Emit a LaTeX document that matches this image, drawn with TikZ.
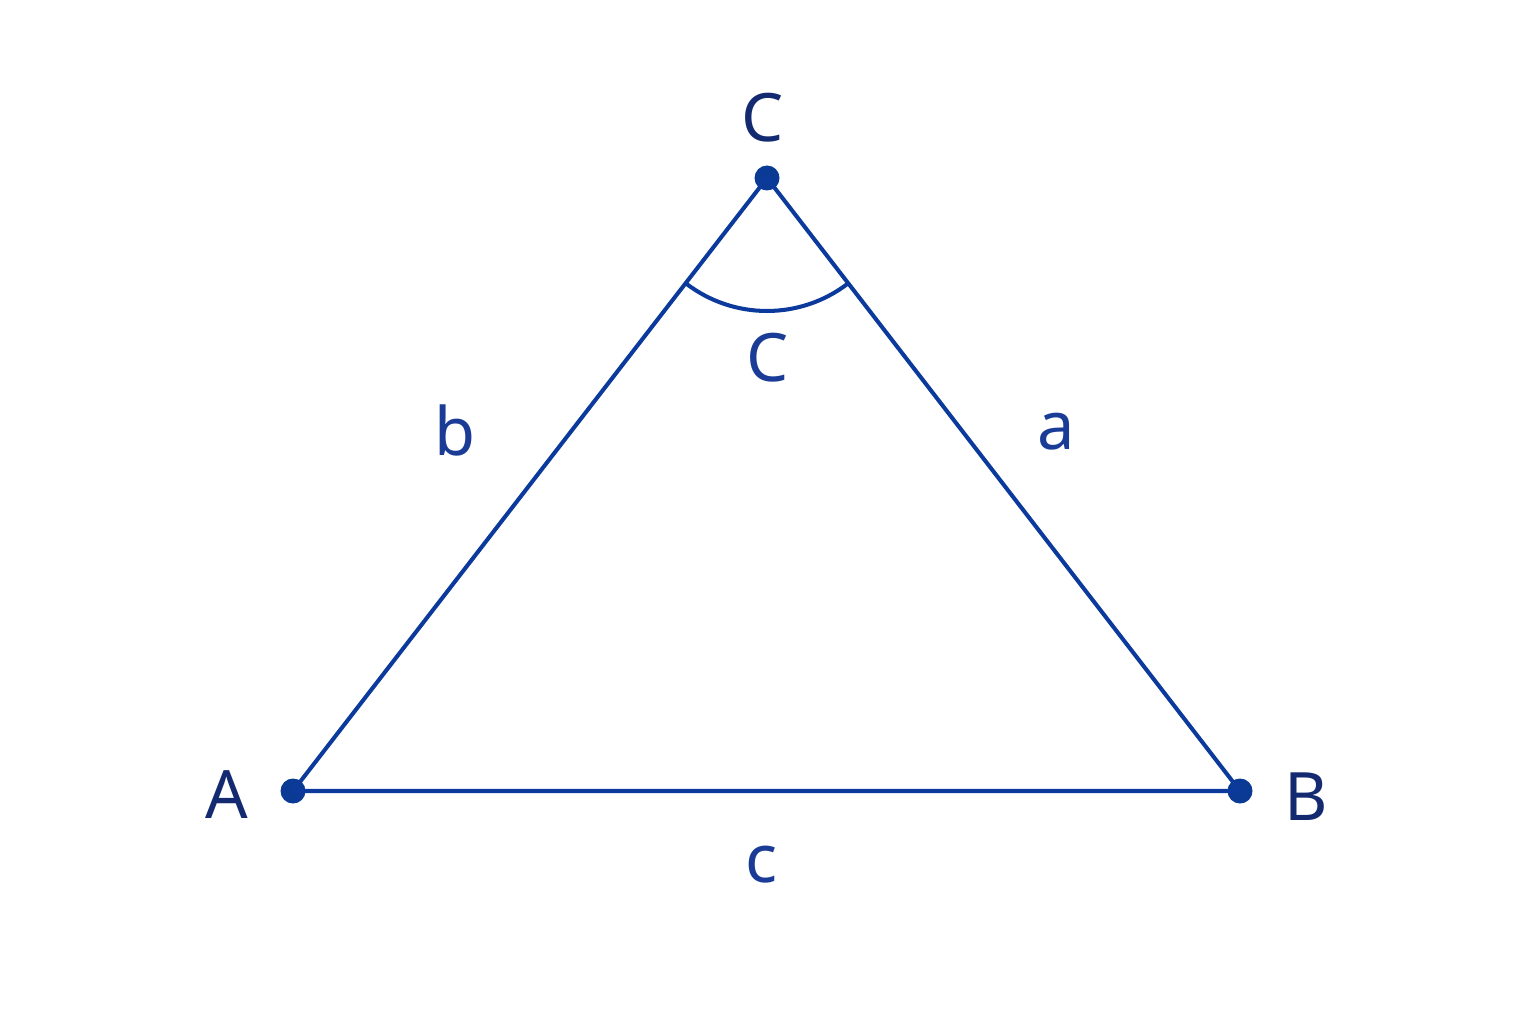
\documentclass[tikz,border=0pt]{standalone}
\usepackage{fontspec}
\setmainfont{Noto Sans}
\usepackage{tikz}
\usetikzlibrary{calc}
\usepackage{xcolor}
\definecolor{sideblue}{HTML}{0B3A9C}
\definecolor{dotblue}{HTML}{0A3A94}
\definecolor{vertexnavy}{HTML}{142A70}
\definecolor{labelblue}{HTML}{1A3C96}

\begin{document}
\begin{tikzpicture}[x=1cm,y=1cm,line width=1.15pt,
  vertex/.style={circle,fill=dotblue,inner sep=0pt,minimum size=0.25cm},
  vname/.style={text=vertexnavy,font=\fontsize{19}{22}\selectfont},
  sname/.style={text=labelblue,font=\fontsize{19}{22}\selectfont}]
\useasboundingbox (0,0) rectangle (15.36,10.24);

\node[vertex] (nA) at (2.93,2.33) {};
\node[vertex] (nB) at (12.40,2.33) {};
\node[vertex] (nC) at (7.67,8.46) {};

\node[vname] (lA) at (2.27,2.29) {A};
\node[vname] (lB) at (13.06,2.27) {B};
\node[vname] (lC) at (7.63,9.06) {C};

\path[draw=sideblue] (nA.center) -- (nB.center) -- (nC.center) -- cycle;

% angle at C
\draw[sideblue] ($(nC.center)+(232.3:1.33)$) arc[start angle=232.3,end angle=307.7,radius=1.33];
\node[sname] (angC) at (7.68,6.66) {C};

\node[sname] (sa) at (10.56,5.92) {a};
\node[sname] (sb) at (4.55,5.94) {b};
\node[sname] (sc) at (7.62,1.59) {c};
\end{tikzpicture}
\end{document}
